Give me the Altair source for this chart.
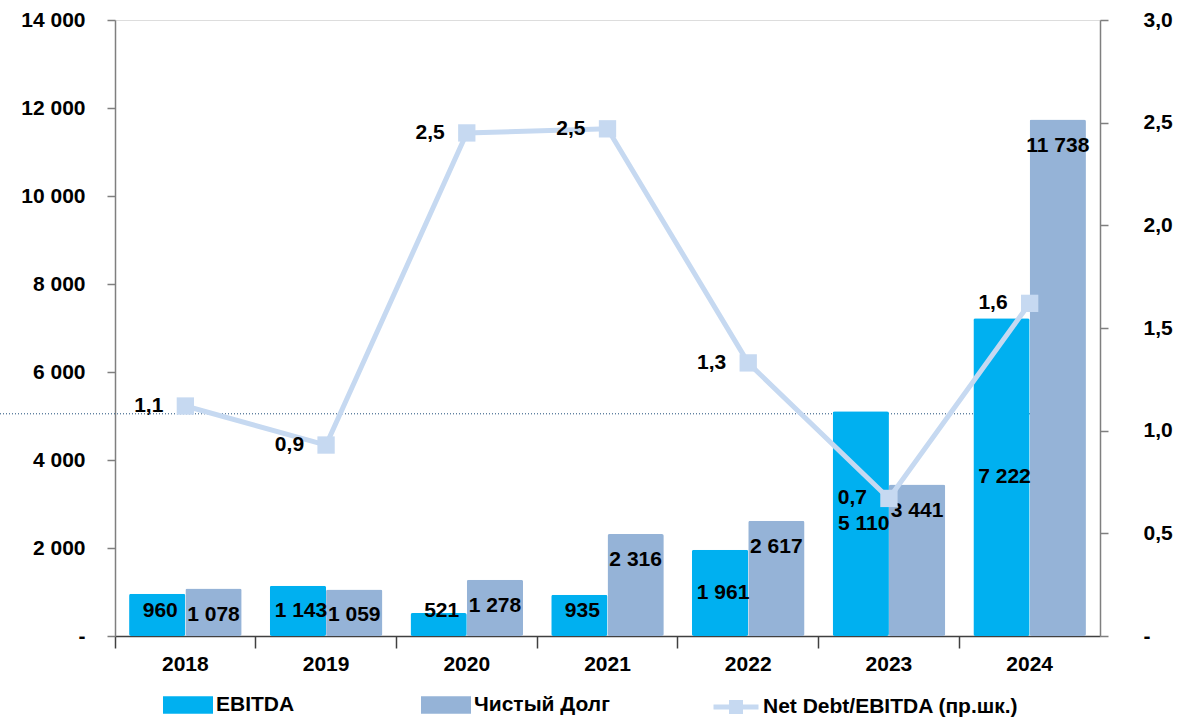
import altair as alt
import pandas as pd

years = ["2018", "2019", "2020", "2021", "2022", "2023", "2024"]
ebitda = [960, 1143, 521, 935, 1961, 5110, 7222]
net_debt = [1078, 1059, 1278, 2316, 2617, 3441, 11738]
ratio = [1.12, 0.93, 2.45, 2.47, 1.33, 0.67, 1.62]
series_names = ["EBITDA", "Чистый Долг"]
line_name = "Net Debt/EBITDA (пр.шк.)"
dotted_level = 5050
min_label_center = 570

FONT = "Liberation Sans, Arial"
FS = 21
C_EBITDA = "#00B0F0"
C_DEBT = "#95B3D7"
C_LINE = "#C6D9F1"

rows = []
for i, y in enumerate(years):
    rows.append({"year": y, "series": series_names[0], "value": ebitda[i]})
    rows.append({"year": y, "series": series_names[1], "value": net_debt[i]})
bars_df = pd.DataFrame(rows)
line_df = pd.DataFrame({"year": years, "ratio": ratio, "series": [line_name] * len(years)})

x_enc = alt.X("year:N", sort=years, title=None,
              scale=alt.Scale(paddingInner=0, paddingOuter=0),
              axis=alt.Axis(bandPosition=0, labelAngle=0, labelFont=FONT, labelFontSize=FS,
                            labelFontWeight="bold", labelColor="#000000", labelPadding=5,
                            domainColor="#404040", tickColor="#404040", tickSize=12,
                            domainWidth=1.5, tickWidth=1.5))
xoff = alt.XOffset("series:N", sort=series_names,
                   scale=alt.Scale(paddingOuter=0.25, paddingInner=0))
y_left = alt.Scale(domain=[0, 14000])
y_right = alt.Scale(domain=[0, 3])

left_axis = alt.Axis(orient="left", values=list(range(0, 14001, 2000)), grid=False,
                     labelExpr="datum.value == 0 ? '-' : replace(format(datum.value, ',.0f'), ',', ' ')",
                     labelFont=FONT, labelFontSize=FS, labelFontWeight="bold", labelColor="#000000",
                     labelPadding=22, domainColor="#7F7F7F", tickColor="#7F7F7F", tickSize=8,
                     domainWidth=1.5, tickWidth=1.5, title=None)
right_axis = alt.Axis(orient="right", values=[0, 0.5, 1, 1.5, 2, 2.5, 3], grid=False,
                      labelExpr="datum.value == 0 ? '-' : replace(format(datum.value, '.1f'), '.', ',')",
                      labelFont=FONT, labelFontSize=FS, labelFontWeight="bold", labelColor="#000000",
                      labelPadding=35, domainColor="#7F7F7F", tickColor="#7F7F7F", tickSize=8,
                      domainWidth=1.5, tickWidth=1.5, title=None)

base_bars = alt.Chart(bars_df)

dotted = alt.Chart(pd.DataFrame({"lvl": [dotted_level]})).mark_rule(
    color="#1F4E79", strokeDash=[1, 2], strokeWidth=1
).encode(y=alt.Y("lvl:Q", scale=y_left, axis=left_axis), x=alt.value(-115), x2=alt.value(915))

bars = base_bars.mark_bar(cornerRadius=2).encode(
    x=x_enc, xOffset=xoff,
    y=alt.Y("value:Q", scale=y_left, axis=left_axis),
    fill=alt.Fill("series:N", sort=series_names,
                  scale=alt.Scale(domain=series_names, range=[C_EBITDA, C_DEBT]),
                  legend=alt.Legend(title=None, orient="none", legendX=48, legendY=660,
                                    direction="horizontal", columns=2, columnPadding=126,
                                    symbolType="M-1,-0.35H1V0.35H-1Z", symbolSize=2500,
                                    symbolStrokeWidth=0, labelOffset=3,
                                    labelFont=FONT, labelFontSize=FS, labelFontWeight="bold",
                                    labelColor="#000000", labelLimit=400)),
)

ebitda_labels = base_bars.transform_filter(alt.datum.series == series_names[0]).transform_calculate(
    label="replace(format(datum.value, ',.0f'), ',', ' ')",
    mid=f"max(datum.value / 2, {min_label_center})",
).mark_text(
    font=FONT, fontSize=FS, fontWeight="bold", color="#000000", baseline="middle", dx=3
).encode(
    x=x_enc, xOffset=xoff,
    y=alt.Y("mid:Q", scale=y_left),
    text=alt.Text("label:N"),
)

debt_labels = base_bars.transform_filter(alt.datum.series == series_names[1]).transform_calculate(
    label="replace(format(datum.value, ',.0f'), ',', ' ')"
).mark_text(
    font=FONT, fontSize=FS, fontWeight="bold", color="#000000", baseline="middle", dy=26
).encode(
    x=x_enc, xOffset=xoff,
    y=alt.Y("value:Q", scale=y_left),
    text=alt.Text("label:N"),
)

left_layer = alt.layer(dotted, bars, ebitda_labels, debt_labels)

base_line = alt.Chart(line_df)
line = base_line.mark_line(strokeWidth=5).encode(
    x=x_enc,
    y=alt.Y("ratio:Q", scale=y_right, axis=right_axis),
    stroke=alt.Stroke("series:N", scale=alt.Scale(domain=[line_name], range=[C_LINE]),
                      legend=alt.Legend(title=None, orient="none", legendX=596, legendY=662,
                                        symbolType="M-1,0H1M-0.2,-0.2H0.2V0.2H-0.2Z",
                                        symbolSize=2025, symbolStrokeWidth=5, labelOffset=2,
                                        labelFont=FONT, labelFontSize=FS, labelFontWeight="bold",
                                        labelColor="#000000", labelLimit=400)),
)
points = base_line.mark_square(size=300, color=C_LINE, opacity=1, filled=True).encode(
    x=x_enc, y=alt.Y("ratio:Q", scale=y_right),
)
line_labels = base_line.transform_calculate(
    rlabel="replace(format(datum.ratio, '.1f'), '.', ',')"
).mark_text(
    font=FONT, fontSize=FS, fontWeight="bold", color="#000000", align="right",
    baseline="middle", dx=-22
).encode(
    x=x_enc, y=alt.Y("ratio:Q", scale=y_right), text=alt.Text("rlabel:N"),
)

right_layer = alt.layer(line, points, line_labels)

chart = alt.layer(left_layer, right_layer).resolve_scale(
    y="independent", fill="independent", stroke="independent"
).properties(
    width=985, height=616,
    padding={"left": 115, "top": 20, "right": 81, "bottom": 84},
    autosize=alt.AutoSizeParams(type="none"),
).configure_view(stroke=None).configure(background="#FFFFFF")

chart.save("out.html", embed_options={"renderer": "svg", "actions": False})
